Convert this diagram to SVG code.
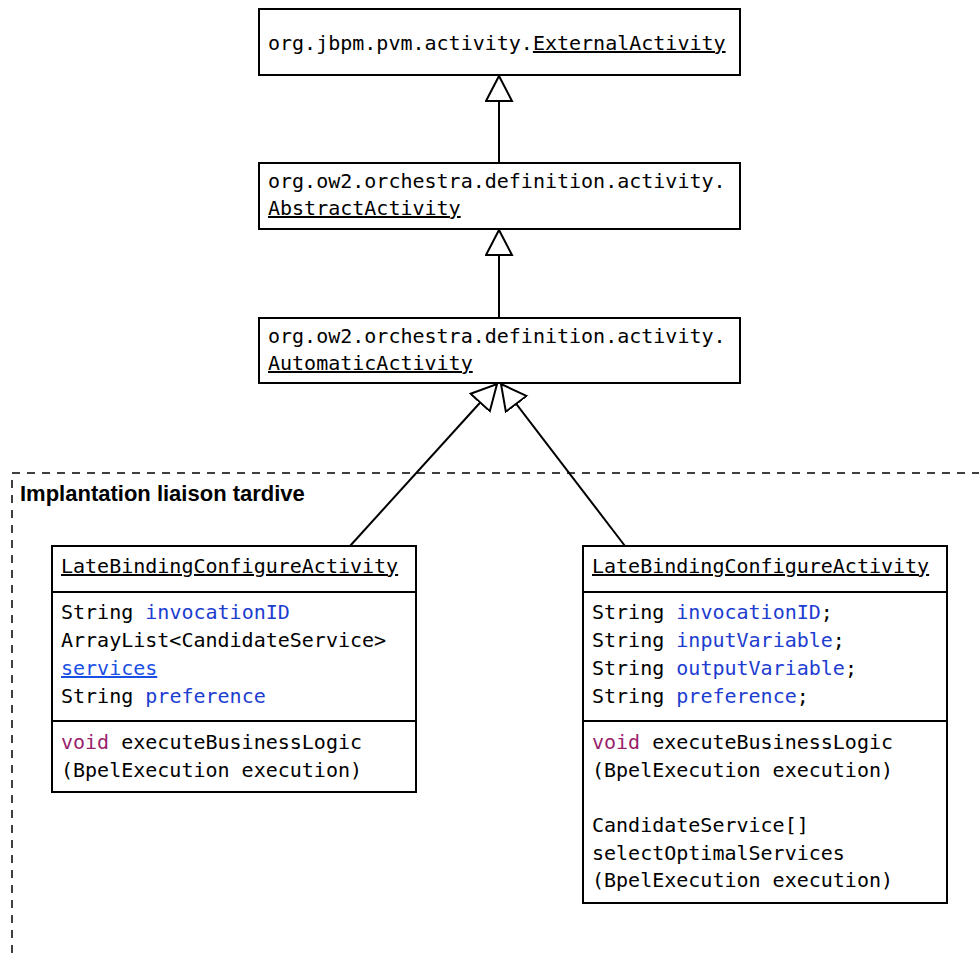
<svg xmlns="http://www.w3.org/2000/svg" width="979" height="953" viewBox="0 0 979 953">
<style>
.box{fill:#fff;stroke:#000;stroke-width:2}
.sep{stroke:#000;stroke-width:2}
.t{font-family:"DejaVu Sans Mono","Liberation Mono",monospace;font-size:20px;fill:#000}
.u{text-decoration:underline}
.v{fill:#1c3dd0}
.lnk{fill:#1a4fe6;text-decoration:underline}
.kw{fill:#9a1f6c}
.conn{stroke:#000;stroke-width:2;fill:none;marker-end:url(#gen)}
.frame{stroke:#000;stroke-width:1.5;fill:none;stroke-dasharray:8 7}
.lbl{font-family:"Liberation Sans",Arial,sans-serif;font-weight:bold;font-size:22px;fill:#000}
</style>
<defs>
<marker id="gen" markerUnits="userSpaceOnUse" markerWidth="30" markerHeight="30" refX="26" refY="14" orient="auto" viewBox="0 0 30 30">
<path d="M1,1 L26,14 L1,27 Z" fill="#fff" stroke="#000" stroke-width="2" stroke-linejoin="miter"/>
</marker>
</defs>
<g id="frame">
<path class="frame" d="M12,953 V473 H979"/>
<text class="lbl" x="20" y="501">Implantation liaison tardive</text>
</g>
<g id="connectors">
<line class="conn" x1="499" y1="163" x2="499" y2="76"/>
<line class="conn" x1="499" y1="318" x2="499" y2="230"/>
<line class="conn" x1="350" y1="546" x2="497" y2="384"/>
<line class="conn" x1="625" y1="546" x2="501" y2="384"/>
</g>
<g id="externalActivity">
<rect class="box" x="259" y="9" width="481" height="66"/>
<text class="t" x="268" y="50">org.jbpm.pvm.activity.<tspan class="u">ExternalActivity</tspan></text>
</g>
<g id="abstractActivity">
<rect class="box" x="259" y="163" width="481" height="66"/>
<text class="t" x="268" y="188">org.ow2.orchestra.definition.activity.</text>
<text class="t u" x="268" y="215">AbstractActivity</text>
</g>
<g id="automaticActivity">
<rect class="box" x="259" y="318" width="481" height="65"/>
<text class="t" x="268" y="343">org.ow2.orchestra.definition.activity.</text>
<text class="t u" x="268" y="370">AutomaticActivity</text>
</g>
<g id="lateBindingLeft">
<rect class="box" x="52" y="546" width="364" height="246"/>
<line class="sep" x1="52" y1="592" x2="416" y2="592"/>
<line class="sep" x1="52" y1="721" x2="416" y2="721"/>
<text class="t u" x="61" y="573">LateBindingConfigureActivity</text>
<text class="t" x="61" y="619">String <tspan class="v">invocationID</tspan></text>
<text class="t" x="61" y="647">ArrayList&lt;CandidateService&gt;</text>
<text class="t lnk" x="61" y="675">services</text>
<text class="t" x="61" y="703">String <tspan class="v">preference</tspan></text>
<text class="t" x="61" y="749"><tspan class="kw">void</tspan> executeBusinessLogic</text>
<text class="t" x="61" y="777">(BpelExecution execution)</text>
</g>
<g id="lateBindingRight">
<rect class="box" x="583" y="546" width="364" height="357"/>
<line class="sep" x1="583" y1="592" x2="947" y2="592"/>
<line class="sep" x1="583" y1="721" x2="947" y2="721"/>
<text class="t u" x="592" y="573">LateBindingConfigureActivity</text>
<text class="t" x="592" y="619">String <tspan class="v">invocationID</tspan>;</text>
<text class="t" x="592" y="647">String <tspan class="v">inputVariable</tspan>;</text>
<text class="t" x="592" y="675">String <tspan class="v">outputVariable</tspan>;</text>
<text class="t" x="592" y="703">String <tspan class="v">preference</tspan>;</text>
<text class="t" x="592" y="749"><tspan class="kw">void</tspan> executeBusinessLogic</text>
<text class="t" x="592" y="777">(BpelExecution execution)</text>
<text class="t" x="592" y="832">CandidateService[]</text>
<text class="t" x="592" y="860">selectOptimalServices</text>
<text class="t" x="592" y="887">(BpelExecution execution)</text>
</g>
</svg>
